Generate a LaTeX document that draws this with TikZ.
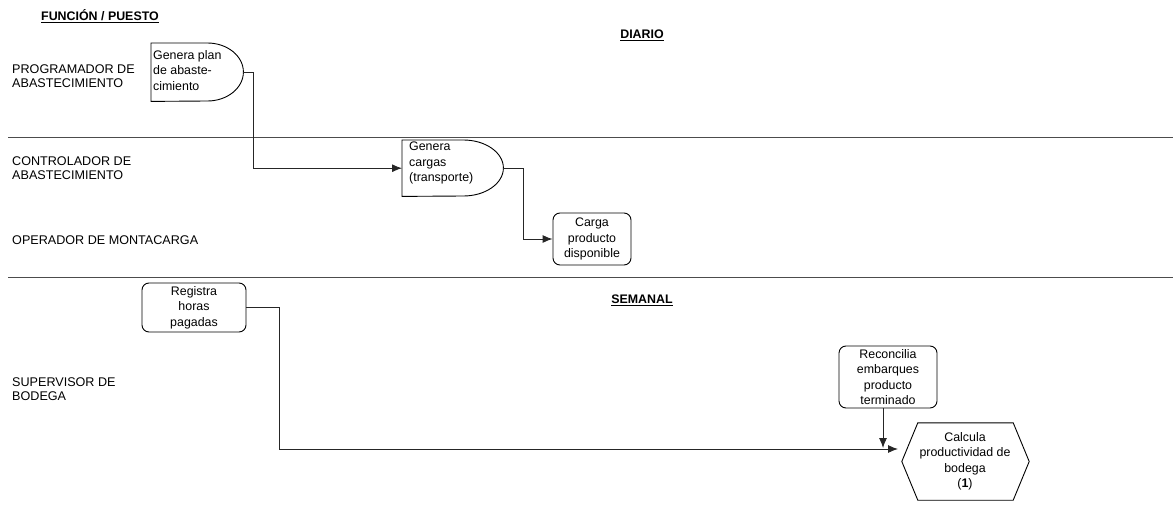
\documentclass[tikz,border=0pt]{standalone}
\usepackage{fontspec}
\setmainfont{Liberation Sans}
\usetikzlibrary{arrows.meta,calc}
\begin{document}
\begin{tikzpicture}[x=1pt,y=-1pt,
  lanelbl/.style={anchor=west, align=left, inner sep=0pt, font=\fontsize{12.6}{13.4}\selectfont},
  hdr/.style={inner sep=0pt, font=\fontsize{12.4}{14}\selectfont\bfseries},
  boxtext/.style={inner sep=0pt, font=\fontsize{12.4}{15.5}\selectfont},
  lane/.style={draw=black!70, line width=0.9pt},
  outline/.style={draw=black, line width=0.9pt},
  roundbox/.style={boxtext, outline, rounded corners=7pt, align=center},
  conn/.style={draw=black!85, line width=0.9pt},
  arr/.style={conn, -{Latex[length=10pt,width=8pt]}},
]
\useasboundingbox (0,0) rectangle (1173,508);

% headings
\node[hdr] (funcion) at (100,16) {\underline{FUNCIÓN / PUESTO}};
\node[hdr] (diario) at (642,35) {\underline{DIARIO}};
\node[hdr] (semanal) at (642,300) {\underline{SEMANAL}};

% lane names
\node[lanelbl] (prog) at (12,76) {PROGRAMADOR DE\\ABASTECIMIENTO};
\node[lanelbl] (ctrl) at (12,168) {CONTROLADOR DE\\ABASTECIMIENTO};
\node[lanelbl] (oper) at (12,240) {OPERADOR DE MONTACARGA};
\node[lanelbl] (superv) at (12,389) {SUPERVISOR DE\\BODEGA};

% lane separators
\draw[lane] (8,137) -- (1173,137);
\draw[lane] (8,277) -- (1173,277);

% delay-shaped steps
\node[inner sep=0pt, minimum width=56pt, minimum height=58pt, anchor=north west] (gp) at (151,43) {};
\draw[outline] (gp.south west) -- (gp.north west) -- (gp.north east)
  arc[start angle=90, end angle=-90, x radius=36pt, y radius=29pt] -- cycle;
\coordinate (gpout) at ($(gp.east)+(36,0)$);
\node[boxtext, align=left, anchor=north west] (gptext) at (153,50) {Genera plan\\de abaste-\\cimiento};

\node[inner sep=0pt, minimum width=61pt, minimum height=56pt, anchor=north west] (gc) at (402,140) {};
\draw[outline] (gc.south west) -- (gc.north west) -- (gc.north east)
  arc[start angle=90, end angle=-90, x radius=40pt, y radius=28pt] -- cycle;
\coordinate (gcout) at ($(gc.east)+(40,0)$);
\node[boxtext, align=left, anchor=north west] (gctext) at (409,142) {Genera\\cargas\\(transporte)};

% rounded steps
\node[roundbox, minimum width=78pt, minimum height=52pt] (cp) at (592,239) {Carga\\producto\\disponible};
\node[roundbox, minimum width=104pt, minimum height=49pt] (rh) at (194,307.5) {Registra\\horas\\pagadas};
\node[roundbox, minimum width=98pt, minimum height=62pt] (rc) at (888,377) {Reconcilia\\embarques\\producto\\terminado};

% hexagonal step
\node[inner sep=0pt, minimum width=127pt, minimum height=77pt] (hx) at (965.5,461.5) {};
\draw[outline] (hx.west) -- ($(hx.north west)+(16,0)$) -- ($(hx.north east)+(-16,0)$)
  -- (hx.east) -- ($(hx.south east)+(-16,0)$) -- ($(hx.south west)+(16,0)$) -- cycle;
\node[boxtext, align=center] (hxtext) at (965,461.5) {Calcula\\productividad de\\bodega\\(\textbf{1})};

% connectors
\coordinate (hxin) at (898,449);
\coordinate (rcin) at (883,448);
\draw[arr] (gpout) -- ++(10,0) |- (gc.west);
\draw[arr] (gcout) -- ++(20,0) |- (cp.west);
\draw[arr] (rh.east) -- ++(33,0) |- (hxin);
\draw[arr] (rcin |- rc.south) -- (rcin);
\end{tikzpicture}
\end{document}
